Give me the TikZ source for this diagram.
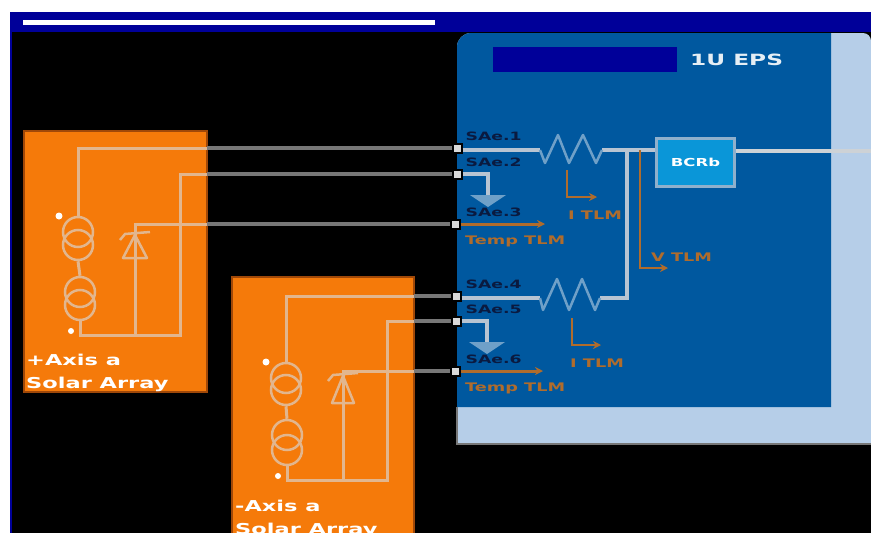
\documentclass[tikz,border=0pt]{standalone}
\usepackage{fontspec}
\setmainfont{DejaVu Sans}
\newfontfamily\widefont[FakeStretch=1.5]{DejaVu Sans}
\usetikzlibrary{arrows.meta, positioning}
\definecolor{barblue}{HTML}{000099}
\definecolor{epsblue}{HTML}{00589F}
\definecolor{epslight}{HTML}{B6CEE8}
\definecolor{bcrblue}{HTML}{0A96D8}
\definecolor{bcredge}{HTML}{8FB0CC}
\definecolor{saorange}{HTML}{F57A0A}
\definecolor{saedge}{HTML}{A04808}
\definecolor{wiretan}{HTML}{E2B68E}
\definecolor{wiregray}{HTML}{777777}
\definecolor{wirelight}{HTML}{B8C4D2}
\definecolor{outlight}{HTML}{CDD2D6}
\definecolor{resblue}{HTML}{6FA0C8}
\definecolor{tlmbrown}{HTML}{B06C2C}
\definecolor{labeldark}{HTML}{0A1A40}

\begin{document}
\begin{tikzpicture}[
      x=1pt, y=-1pt,
      panel/.style={draw=saedge, line width=1.5pt, fill=saorange, inner sep=0pt,
                    outer sep=0pt, anchor=north west},
      wire/.style={draw=wiretan, line width=3pt},
      blackwire/.style={draw=wiregray, line width=3.5pt},
      busline/.style={draw=wirelight, line width=4pt},
      resistor/.style={draw=resblue, line width=2.5pt},
      pad/.style={draw=black, line width=2pt, fill=white!85!black, inner sep=0pt,
                  minimum size=9pt},
      src/.style={circle, draw=wiretan, line width=2.5pt, inner sep=0pt, minimum size=30pt},
      sun/.style={font=\widefont\fontsize{15}{15}\selectfont\bfseries, text=white,
                  inner sep=0pt, anchor=west},
      sa/.style={font=\widefont\fontsize{11.5}{11.5}\selectfont\bfseries, text=labeldark,
                 inner sep=0pt},
      tlm/.style={font=\widefont\fontsize{11.8}{11.8}\selectfont\bfseries, text=tlmbrown,
                  inner sep=0pt, anchor=west},
      arr/.style={-{Stealth[length=8pt, width=8pt]}, line width=2pt, draw=tlmbrown},
      dot/.style={circle, fill=white, inner sep=0pt, minimum size=7pt},
    ]
    \useasboundingbox (0,0) rectangle (871,533);

    % Header and background
    \fill[black] (10,12) rectangle (871,533);
    \fill[barblue] (10,12) rectangle (871,32);
    \fill[barblue] (10,32) rectangle (12,533);
    \fill[white] (23,20) rectangle (435,25);

    % EPS board
    \fill[epslight] (457,444) [rounded corners=14pt] -- (457,33) [rounded corners=8pt]
      -- (871,33) [sharp corners] -- (871,444) -- cycle;
    \draw[wiregray, line width=2pt] (457,407) -- (457,444) -- (871,444);
    \fill[epsblue] (457,407) [rounded corners=14pt] -- (457,33) [sharp corners]
      -- (831,33) -- (831,407) -- cycle;
    \fill[barblue] (493,47) rectangle (677,72);
    \node[font=\widefont\fontsize{15.5}{15.5}\selectfont\bfseries, text=white!90!epsblue,
          inner sep=0pt, anchor=west] (title) at (690,60) {1U EPS};

    % Solar panels
    \node[panel, minimum width=183pt, minimum height=261pt] (panelA) at (24,131) {};
    \node[panel, minimum width=182pt, minimum height=258pt] (panelB) at (232,277) {};
    \node[sun] (axisA) at (26,360) {+Axis a};
    \node[sun, below=11pt of axisA.south west, anchor=north west] (arrayA) {Solar Array};
    \node[sun] (axisB) at (235,506) {-Axis a};
    \node[sun, below=11pt of axisB.south west, anchor=north west] (arrayB) {Solar Array};

    % Connector pads and panel edges
    \node[pad] (sa1) at (457,148) {};
    \node[pad] (sa2) at (457,174) {};
    \node[pad] (sa3) at (455,224) {};
    \node[pad] (sa4) at (456,296) {};
    \node[pad] (sa5) at (456,321) {};
    \node[pad] (sa6) at (455,371) {};
    \coordinate (edge1) at (207,148);
    \coordinate (edge2) at (207,174);
    \coordinate (edge3) at (207,224);
    \coordinate (edge4) at (414,296);
    \coordinate (edge5) at (414,321);
    \coordinate (edge6) at (414,371);

    % Panel A circuit
    \node[src] (srcA1) at (78,232) {};
    \node[src] (srcA2) at (78,245) {};
    \node[src] (srcA3) at (80,292) {};
    \node[src] (srcA4) at (80,305) {};
    \node[dot] (plusA) at (59,216) {};
    \node[dot, minimum size=6pt] (minusA) at (71,331) {};
    \coordinate (railA) at (80,335);
    \coordinate (tapA) at (135,335);
    \coordinate (retA) at (180,335);
    \coordinate (apexA) at (135,235);
    \draw[wire] (srcA1.north) |- (edge1);
    \draw[wire] (srcA2.south) -- (srcA3.north);
    \draw[wire] (srcA4.south) -- (railA) -- (tapA) -- (retA) |- (edge2);
    \draw[wire] (tapA) -- (apexA) |- (edge3);
    \draw[wire, line width=2.5pt, line join=round] (apexA) -- ++(-12,23) -- ++(24,0) -- cycle;
    \draw[wire, line width=2.5pt] (apexA) ++(-15,5) -- ++(5,-6) -- ++(25,-2);

    % Panel B circuit
    \node[src] (srcB1) at (286,378) {};
    \node[src] (srcB2) at (286,390) {};
    \node[src] (srcB3) at (287,435) {};
    \node[src] (srcB4) at (287,450) {};
    \node[dot] (plusB) at (266,362) {};
    \node[dot, minimum size=6pt] (minusB) at (278,476) {};
    \coordinate (railB) at (287,480);
    \coordinate (tapB) at (343,480);
    \coordinate (retB) at (387,480);
    \coordinate (apexB) at (343,376);
    \draw[wire] (srcB1.north) |- (edge4);
    \draw[wire] (srcB2.south) -- (srcB3.north);
    \draw[wire] (srcB4.south) -- (railB) -- (tapB) -- (retB) |- (edge5);
    \draw[wire] (tapB) -- (apexB) |- (edge6);
    \draw[wire, line width=2.5pt, line join=round] (apexB) -- ++(-11,27) -- ++(22,0) -- cycle;
    \draw[wire, line width=2.5pt] (apexB) ++(-15,5) -- ++(5,-6) -- ++(25,-2);

    % Wires across the gap
    \draw[blackwire] (edge1) -- (sa1);
    \draw[blackwire] (edge2) -- (sa2);
    \draw[blackwire] (edge3) -- (sa3);
    \draw[blackwire] (edge4) -- (sa4);
    \draw[blackwire] (edge5) -- (sa5);
    \draw[blackwire] (edge6) -- (sa6);

    % Charge regulator and bus
    \node[draw=bcredge, line width=3pt, fill=bcrblue, minimum width=78pt, minimum height=48pt,
          inner sep=0pt, font=\widefont\fontsize{11}{11}\selectfont\bfseries, text=white]
          (bcr) at (695.5,162.5) {BCRb};
    \coordinate (resAin) at (540,150);
    \coordinate (resAout) at (602,150);
    \coordinate (resBin) at (540,298);
    \coordinate (resBout) at (600,298);
    \coordinate (busA) at (627,150);
    \coordinate (outEnd) at (871,151);
    \draw[busline] (sa1.east |- resAin) -- (resAin);
    \draw[busline] (resAout) -- (busA) -- (bcr.west |- busA);
    \draw[busline] (sa4.east |- resBin) -- (resBin);
    \draw[busline] (resBout) -- (busA |- resBout) -- (busA);
    \draw[busline, draw=outlight, line width=3.5pt] (bcr.east |- outEnd) -- (outEnd);
    \draw[resistor, line join=round] (resAin) -- (545,163) -- (558,135) -- (569,163)
      -- (583,135) -- (596,163) -- (resAout);
    \draw[resistor, line join=round] (resBin) -- (543,310) -- (557,279) -- (569,310)
      -- (582,279) -- (595,310) -- (resBout);

    % Return arrows to ground
    \coordinate (gndA) at (488,195);
    \coordinate (gndB) at (487,342);
    \draw[busline] (sa2) -| (gndA);
    \draw[busline] (sa5) -| (gndB);
    \fill[resblue] (gndA) ++(-18,0) -- ++(36,0) -- ++(-18,12) -- cycle;
    \fill[resblue] (gndB) ++(-18,0) -- ++(36,0) -- ++(-18,12) -- cycle;

    % Telemetry taps
    \coordinate (tapI1) at (567,170);
    \coordinate (endI1) at (597,197);
    \coordinate (tapI2) at (572,318);
    \coordinate (endI2) at (601,345);
    \coordinate (tapV) at (640,150);
    \coordinate (endV) at (668,268);
    \coordinate (endT1) at (545,224);
    \coordinate (endT2) at (543,372);
    \draw[arr] (tapI1) |- (endI1);
    \draw[arr] (tapI2) |- (endI2);
    \draw[arr] (tapV) |- (endV);
    \draw[arr, line width=3pt] (sa3) -- (endT1);
    \draw[arr, line width=3pt] (sa6) -- (endT2 |- sa6);
    \node[tlm] (labI1) at (568,215) {I TLM};
    \node[tlm] (labI2) at (570,363) {I TLM};
    \node[tlm] (labV) at (651,257) {V TLM};
    \node[tlm] (labT1) at (465,241) {Temp TLM};
    \node[tlm] (labT2) at (465,388) {Temp TLM};

    % Connector labels
    \node[sa, above right=2pt and 3pt of sa1.north east, anchor=south west] (lab1) {SAe.1};
    \node[sa, above right=2pt and 3pt of sa2.north east, anchor=south west] (lab2) {SAe.2};
    \node[sa, above right=2pt and 5pt of sa3.north east, anchor=south west] (lab3) {SAe.3};
    \node[sa, above right=2pt and 4pt of sa4.north east, anchor=south west] (lab4) {SAe.4};
    \node[sa, above right=2pt and 4pt of sa5.north east, anchor=south west] (lab5) {SAe.5};
    \node[sa, above right=2pt and 5pt of sa6.north east, anchor=south west] (lab6) {SAe.6};
  \end{tikzpicture}
\end{document}
